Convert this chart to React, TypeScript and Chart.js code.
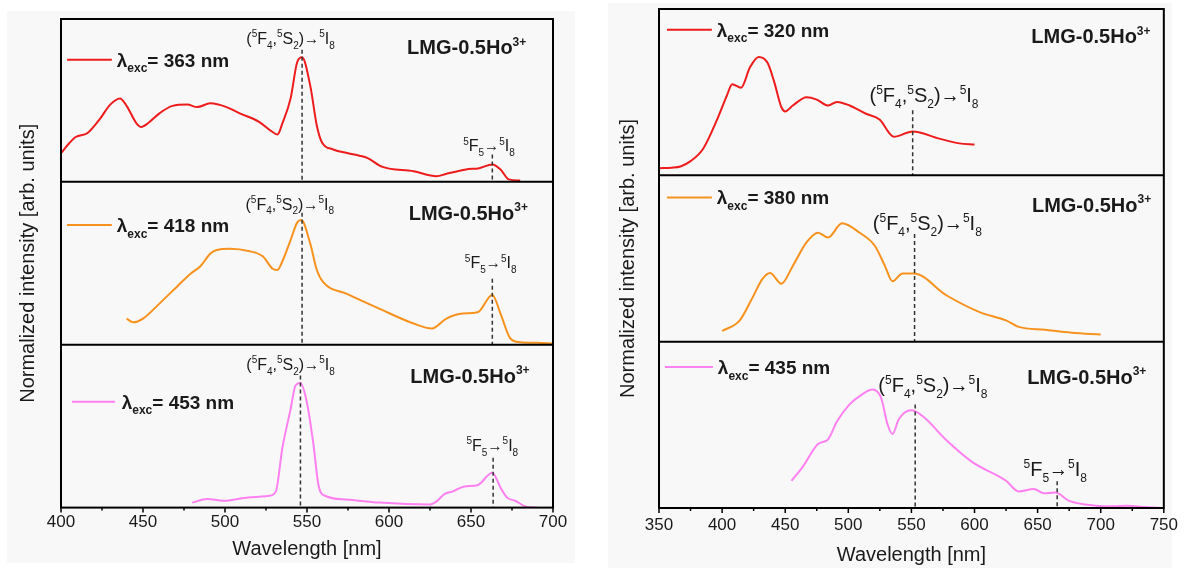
import React, { useEffect, useRef } from 'react';
import { Chart, registerables } from 'chart.js';
Chart.register(...registerables);

const FONT = '"Liberation Sans", Arial, Helvetica, sans-serif';
const TEXT = '#1a1a1a';
const BG = '#f8f8f8';
const RED = '#ee1c1c';
const ORANGE = '#f7921e';
const PINK = '#ff80f0';

// ---------- Left panel data (normalized emission) ----------
const LEFT_EXC = [363, 418, 453];

const L363_WL = [400, 405, 409, 416, 424, 430, 436, 440, 446, 449, 453, 460, 468, 477, 483, 491, 501, 509, 521, 529, 532, 535, 540, 544, 547, 552, 556, 559, 566, 575, 582, 587, 596, 615, 629, 635, 647, 655, 663, 668, 673, 680];
const L363_VAL = [0.23, 0.31, 0.36, 0.39, 0.51, 0.62, 0.67, 0.61, 0.47, 0.44, 0.47, 0.55, 0.61, 0.62, 0.60, 0.63, 0.60, 0.55, 0.48, 0.40, 0.38, 0.47, 0.67, 0.96, 1.0, 0.77, 0.45, 0.32, 0.26, 0.23, 0.21, 0.19, 0.12, 0.085, 0.045, 0.065, 0.10, 0.11, 0.14, 0.10, 0.02, 0.01];

const L418_WL = [440, 444, 450, 460, 471, 479, 485, 491, 495, 503, 515, 523, 529, 532, 535, 540, 544, 546.5, 552, 556, 560, 574, 594, 615, 626, 635, 645, 654, 663, 668, 674, 680, 690, 700];
const L418_VAL = [0.21, 0.18, 0.21, 0.33, 0.47, 0.57, 0.63, 0.73, 0.76, 0.77, 0.75, 0.71, 0.61, 0.60, 0.67, 0.84, 0.98, 1.0, 0.81, 0.60, 0.50, 0.41, 0.29, 0.17, 0.13, 0.21, 0.25, 0.26, 0.40, 0.25, 0.05, 0.02, 0.015, 0.01];

const L453_WL = [480, 489, 499, 513, 527, 531, 535, 540, 543, 546, 550, 554, 557, 561, 574, 594, 625, 629, 634, 639, 646, 654, 663, 668, 672, 677, 683, 690];
const L453_VAL = [0.04, 0.07, 0.055, 0.08, 0.095, 0.13, 0.48, 0.79, 0.98, 1.0, 0.84, 0.50, 0.18, 0.095, 0.065, 0.04, 0.025, 0.05, 0.11, 0.13, 0.17, 0.18, 0.28, 0.16, 0.08, 0.055, 0.01, 0.0];

// ---------- Right panel data ----------
const RIGHT_EXC = [320, 380, 435];

const R320_WL = [350, 360, 367, 375, 385, 396, 404, 408, 415, 422, 429, 436, 441, 447, 450, 456, 467, 475, 484, 491, 501, 514, 525, 533, 536, 551, 572, 588, 600];
const R320_VAL = [0.06, 0.065, 0.075, 0.12, 0.225, 0.47, 0.68, 0.77, 0.74, 0.91, 1.0, 0.95, 0.80, 0.575, 0.54, 0.59, 0.66, 0.64, 0.59, 0.62, 0.59, 0.52, 0.47, 0.35, 0.325, 0.37, 0.31, 0.27, 0.26];

const R380_WL = [400, 414, 424, 432, 438, 447, 456, 467, 476, 484, 495, 509, 521, 529, 535, 543, 552, 578, 604, 625, 635, 656, 677, 700];
const R380_VAL = [0.09, 0.18, 0.37, 0.53, 0.58, 0.49, 0.64, 0.84, 0.92, 0.88, 1.0, 0.92, 0.81, 0.64, 0.51, 0.575, 0.575, 0.39, 0.25, 0.18, 0.125, 0.10, 0.075, 0.06];

const R435_WL = [455, 464, 476, 484, 491, 501, 511, 519, 526, 531, 535, 540, 550, 559, 578, 598, 625, 635, 647, 655, 664, 675, 696, 710, 721, 735, 750];
const R435_VAL = [0.23, 0.35, 0.54, 0.58, 0.73, 0.875, 0.96, 1.0, 0.93, 0.71, 0.625, 0.75, 0.825, 0.775, 0.57, 0.39, 0.23, 0.14, 0.16, 0.125, 0.13, 0.06, 0.02, 0.015, 0.02, 0.008, 0.0];

// transition peak positions (nm)
const LEFT_MAIN_PEAK = [547, 547, 546];
const LEFT_SMALL_PEAK = [663, 663, 663.5];
const RIGHT_MAIN_PEAK = [551, 552.5, 553];
const RIGHT_SMALL_PEAK = [665.5];

// ---------- rich text helpers ----------
type Seg = [string, number]; // 0 normal, 1 sup, -1 sub, 2 arrow (stretched)
const MAIN_SEGS: Seg[] = [['(', 0], ['5', 1], ['F', 0], ['4', -1], [',', 0], ['5', 1], ['S', 0], ['2', -1], [')', 0], ['→', 2], ['5', 1], ['I', 0], ['8', -1]];
const SMALL_SEGS: Seg[] = [['5', 1], ['F', 0], ['5', -1], ['→', 2], ['5', 1], ['I', 0], ['8', -1]];
const LMG_SEGS: Seg[] = [['LMG-0.5Ho', 0], ['3+', 1]];
const legendSegs = (exc: number): Seg[] => [['λ', 0], ['exc', -1], ['= ' + exc + ' nm', 0]];
const ARROW_EM = 0.95;

function segFont(size: number, bold: boolean, k: number) {
  const s = k === 0 || k === 2 ? size : Math.round(size * 0.62);
  return `${bold ? 'bold ' : ''}${s}px ${FONT}`;
}
function segWidth(ctx: CanvasRenderingContext2D, t: string, size: number, bold: boolean, k: number) {
  if (k === 2) return size * ARROW_EM;
  ctx.font = segFont(size, bold, k);
  return ctx.measureText(t).width;
}
function drawRich(ctx: CanvasRenderingContext2D, segs: Seg[], x: number, yc: number, size: number, bold: boolean, align: 'left' | 'center') {
  let w = 0;
  for (const [t, k] of segs) w += segWidth(ctx, t, size, bold, k);
  let cx = align === 'center' ? x - w / 2 : x;
  const base = yc + size * 0.36;
  ctx.fillStyle = TEXT;
  ctx.textAlign = 'left';
  ctx.textBaseline = 'alphabetic';
  for (const [t, k] of segs) {
    ctx.font = segFont(size, bold, k);
    const sw = segWidth(ctx, t, size, bold, k);
    if (k === 2) {
      const raw = ctx.measureText(t).width;
      ctx.save();
      ctx.translate(cx, base);
      ctx.scale(sw / raw, 1.05);
      ctx.fillText(t, 0, 0);
      ctx.restore();
    } else {
      const dy = k === 1 ? -size * 0.42 : k === -1 ? size * 0.3 : 0;
      ctx.fillText(t, cx, base + dy);
    }
    cx += sw;
  }
}

// ---------- panel definitions ----------
interface Mark { x: number; lx: number; ly: number; top: number }
interface Sub {
  axis: string; wl: number[]; val: number[]; color: string; exc: number;
  legend: { x0: number; x1: number; tx: number; y: number };
  lmg: { x: number; y: number };
  main: Mark; small?: Mark;
}
interface Panel {
  id: string; xMin: number; xMax: number; yMax: number; transSize: number;
  padding: { top: number; right: number; bottom: number; left: number };
  xTickPad: number; xTitlePad: { top: number; bottom: number }; yTitlePad: { top: number; bottom: number };
  subs: Sub[];
}

const LEFT_PANEL: Panel = {
  id: 'L', xMin: 400, xMax: 700, yMax: 1.307, transSize: 16,
  padding: { top: 8, right: 22, bottom: 0, left: 0 },
  xTickPad: 5, xTitlePad: { top: 1, bottom: 4 }, yTitlePad: { top: 11, bottom: 23 },
  subs: [
    { axis: 'yL1', wl: L363_WL, val: L363_VAL, color: RED, exc: LEFT_EXC[0],
      legend: { x0: 403.7, x1: 431, tx: 434, y: 0.98 }, lmg: { x: 611, y: 1.08 },
      main: { x: LEFT_MAIN_PEAK[0], lx: 540, ly: 1.155, top: 1.06 },
      small: { x: LEFT_SMALL_PEAK[0], lx: 661, ly: 0.29, top: 0.22 } },
    { axis: 'yL2', wl: L418_WL, val: L418_VAL, color: ORANGE, exc: LEFT_EXC[1],
      legend: { x0: 403.7, x1: 431, tx: 434, y: 0.96 }, lmg: { x: 612, y: 1.06 },
      main: { x: LEFT_MAIN_PEAK[1], lx: 539.5, ly: 1.13, top: 1.06 },
      small: { x: LEFT_SMALL_PEAK[1], lx: 662, ly: 0.66, top: 0.53 } },
    { axis: 'yL3', wl: L453_WL, val: L453_VAL, color: PINK, exc: LEFT_EXC[2],
      legend: { x0: 406.7, x1: 433, tx: 437, y: 0.85 }, lmg: { x: 613, y: 1.06 },
      main: { x: LEFT_MAIN_PEAK[2], lx: 540, ly: 1.15, top: 1.06 },
      small: { x: LEFT_SMALL_PEAK[2], lx: 663, ly: 0.5, top: 0.40 } },
  ],
};

const RIGHT_PANEL: Panel = {
  id: 'R', xMin: 350, xMax: 750, yMax: 1.405, transSize: 20,
  padding: { top: 9, right: 20, bottom: 0, left: 0 },
  xTickPad: 7, xTitlePad: { top: 2.6, bottom: 3 }, yTitlePad: { top: 10, bottom: 21 },
  subs: [
    { axis: 'yR1', wl: R320_WL, val: R320_VAL, color: RED, exc: RIGHT_EXC[0],
      legend: { x0: 356.3, x1: 391.9, tx: 395.8, y: 1.23 }, lmg: { x: 645, y: 1.175 },
      main: { x: RIGHT_MAIN_PEAK[0], lx: 560, ly: 0.68, top: 0.55 } },
    { axis: 'yR2', wl: R380_WL, val: R380_VAL, color: ORANGE, exc: RIGHT_EXC[1],
      legend: { x0: 356.3, x1: 391.9, tx: 395.8, y: 1.217 }, lmg: { x: 645.5, y: 1.16 },
      main: { x: RIGHT_MAIN_PEAK[1], lx: 562.6, ly: 1.0, top: 0.91 } },
    { axis: 'yR3', wl: R435_WL, val: R435_VAL, color: PINK, exc: RIGHT_EXC[2],
      legend: { x0: 354.7, x1: 392.7, tx: 396.6, y: 1.19 }, lmg: { x: 641.7, y: 1.11 },
      main: { x: RIGHT_MAIN_PEAK[2], lx: 567, ly: 1.04, top: 0.875 },
      small: { x: RIGHT_SMALL_PEAK[0], lx: 664, ly: 0.33, top: 0.225 } },
  ],
};

function makePlugin(p: Panel) {
  return {
    id: 'ann' + p.id,
    afterDatasetsDraw(chart: any) {
      const ctx: CanvasRenderingContext2D = chart.ctx;
      const ca = chart.chartArea;
      const xs = chart.scales.x;
      ctx.save();
      p.subs.forEach((s) => {
        const ys = chart.scales[s.axis];
        // dashed marker lines
        ctx.strokeStyle = '#333';
        ctx.lineWidth = 1.5;
        ctx.setLineDash([4, 3]);
        const marks = s.small ? [s.main, s.small] : [s.main];
        for (const m of marks) {
          const px = xs.getPixelForValue(m.x);
          ctx.beginPath();
          ctx.moveTo(px, ys.getPixelForValue(m.top));
          ctx.lineTo(px, ys.bottom);
          ctx.stroke();
        }
        ctx.setLineDash([]);
        // transition labels
        drawRich(ctx, MAIN_SEGS, xs.getPixelForValue(s.main.lx), ys.getPixelForValue(s.main.ly), p.transSize, false, 'center');
        if (s.small) drawRich(ctx, SMALL_SEGS, xs.getPixelForValue(s.small.lx), ys.getPixelForValue(s.small.ly), p.transSize, false, 'center');
        // sample label
        drawRich(ctx, LMG_SEGS, xs.getPixelForValue(s.lmg.x), ys.getPixelForValue(s.lmg.y), 20, true, 'left');
        // legend
        const ly = ys.getPixelForValue(s.legend.y);
        ctx.strokeStyle = s.color;
        ctx.lineWidth = 2;
        ctx.beginPath();
        ctx.moveTo(xs.getPixelForValue(s.legend.x0), ly);
        ctx.lineTo(xs.getPixelForValue(s.legend.x1), ly);
        ctx.stroke();
        drawRich(ctx, legendSegs(s.exc), xs.getPixelForValue(s.legend.tx), ly, 19, true, 'left');
      });
      // frame + separators
      ctx.strokeStyle = '#000';
      ctx.lineWidth = 2;
      ctx.strokeRect(ca.left, ca.top, ca.right - ca.left, ca.bottom - ca.top);
      p.subs.forEach((s, i) => {
        if (i === p.subs.length - 1) return;
        const ys = chart.scales[s.axis];
        ctx.beginPath();
        ctx.moveTo(ca.left, ys.bottom);
        ctx.lineTo(ca.right, ys.bottom);
        ctx.stroke();
      });
      // x ticks
      ctx.lineWidth = 1.5;
      for (const t of xs.ticks) {
        const px = xs.getPixelForValue(t.value);
        const major = t.value % 50 === 0;
        ctx.beginPath();
        ctx.moveTo(px, ca.bottom);
        ctx.lineTo(px, ca.bottom + (major ? 5 : 3));
        ctx.stroke();
      }
      ctx.restore();
    },
  };
}

function makeConfig(p: Panel): any {
  const scales: any = {
    x: {
      type: 'linear', position: 'bottom', min: p.xMin, max: p.xMax,
      grid: { display: false, drawTicks: false },
      border: { display: false },
      ticks: {
        stepSize: 25, autoSkip: false, maxRotation: 0, padding: p.xTickPad, color: TEXT,
        font: { family: FONT, size: 17, lineHeight: 1.2 },
        callback: (v: number) => (v % 50 === 0 ? String(v) : ''),
      },
      title: { display: true, text: 'Wavelength [nm]', color: TEXT, font: { family: FONT, size: 20, lineHeight: 1 }, padding: p.xTitlePad },
    },
  };
  p.subs.forEach((s, i) => {
    scales[s.axis] = {
      type: 'linear', position: 'left', stack: 'stk' + p.id, stackWeight: 1, weight: 10 - i,
      min: 0, max: p.yMax,
      grid: { display: false, drawTicks: false },
      border: { display: false },
      ticks: { display: false },
      title: i === 1
        ? { display: true, text: 'Normalized intensity [arb. units]', color: TEXT, font: { family: FONT, size: 20, lineHeight: 1 }, padding: p.yTitlePad }
        : { display: false },
    };
  });
  return {
    type: 'line',
    data: {
      datasets: p.subs.map((s) => ({
        label: 'λexc = ' + s.exc + ' nm',
        data: s.wl.map((w, k) => ({ x: w, y: s.val[k] })),
        yAxisID: s.axis,
        borderColor: s.color,
        borderWidth: 2,
        pointRadius: 0,
        fill: false,
        cubicInterpolationMode: 'monotone',
      })),
    },
    options: {
      animation: false,
      responsive: false,
      maintainAspectRatio: false,
      layout: { padding: p.padding },
      plugins: { legend: { display: false }, tooltip: { enabled: false } },
      scales,
    },
    plugins: [makePlugin(p)],
  };
}

export default function App() {
  const leftRef = useRef<HTMLCanvasElement>(null);
  const rightRef = useRef<HTMLCanvasElement>(null);
  useEffect(() => {
    const c1 = new Chart(leftRef.current as HTMLCanvasElement, makeConfig(LEFT_PANEL));
    const c2 = new Chart(rightRef.current as HTMLCanvasElement, makeConfig(RIGHT_PANEL));
    return () => {
      c1.destroy();
      c2.destroy();
    };
  }, []);
  return (
    <div style={{ position: 'fixed', left: 0, top: 0, width: 1185, height: 568, background: '#fff', overflow: 'hidden' }}>
      <div style={{ position: 'absolute', left: 7, top: 11, width: 568, height: 552, background: BG }} />
      <div style={{ position: 'absolute', left: 608, top: 3, width: 564, height: 565, background: BG }} />
      <canvas ref={leftRef} width={568} height={552} style={{ position: 'absolute', left: 7, top: 11, width: 568, height: 552 }} />
      <canvas ref={rightRef} width={577} height={568} style={{ position: 'absolute', left: 608, top: 0, width: 577, height: 568 }} />
    </div>
  );
}
